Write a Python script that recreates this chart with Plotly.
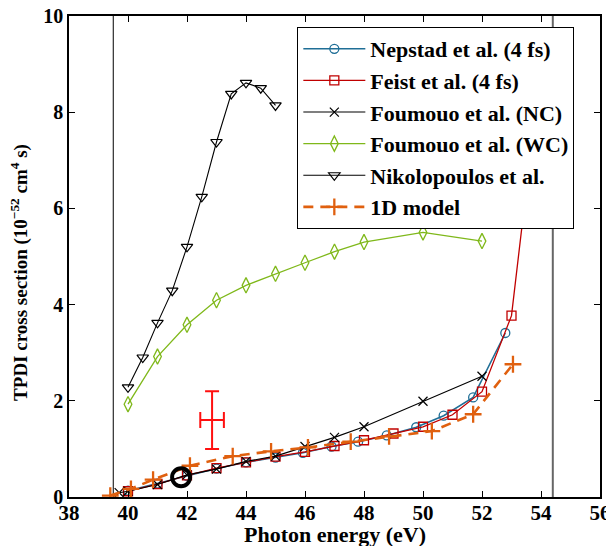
import plotly.graph_objects as go

# ---- data ----
nep_x = [40, 41, 42, 43, 44, 45, 45.93, 46.9, 47.8, 48.77, 49.77, 50.7, 51.7, 52.79]
nep_y = [0.13, 0.28, 0.44, 0.59, 0.72, 0.82, 0.92, 1.05, 1.15, 1.28, 1.45, 1.69, 2.07, 3.41]

feist_x = [40, 41, 42, 43, 44, 45, 46, 47, 48, 49, 50, 51, 52, 53, 54]
feist_y = [0.12, 0.27, 0.45, 0.60, 0.72, 0.84, 0.94, 1.06, 1.18, 1.32, 1.46, 1.71, 2.19, 3.77, 9.0]

fnc_x = [39.7, 40, 41, 42, 43, 44, 45, 46, 47, 48, 50, 52]
fnc_y = [0.09, 0.12, 0.26, 0.46, 0.58, 0.74, 0.85, 1.05, 1.24, 1.46, 1.99, 2.51]

fwc_x = [40, 41, 42, 43, 44, 45, 46, 47, 48, 50, 52]
fwc_y = [1.93, 2.92, 3.58, 4.09, 4.40, 4.64, 4.87, 5.10, 5.30, 5.50, 5.32]

nik_x = [40, 40.5, 41, 41.5, 42, 42.5, 43, 43.5, 44, 44.5, 45]
nik_y = [2.28, 2.90, 3.62, 4.29, 5.20, 6.24, 7.38, 8.38, 8.61, 8.50, 8.14]

m1d_x = [39.4, 40.1, 40.85, 42.1, 43.55, 44.85, 46.1, 47.55, 48.85, 50.3, 51.7, 53.05]
m1d_y = [0.03, 0.17, 0.36, 0.65, 0.85, 0.95, 1.03, 1.15, 1.26, 1.37, 1.72, 2.76]

exp_x = [42.85]
exp_y = [1.6]
exp_dx = [0.4]
exp_dy = [0.6]

circ_x = [41.8]
circ_y = [0.41]

thresholds = [39.5, 54.4]

x_ticks = [38, 40, 42, 44, 46, 48, 50, 52, 54, 56]
y_ticks = [0, 2, 4, 6, 8, 10]

x_title = "Photon energy (eV)"
y_title = "TPDI cross section (10<sup>−52</sup> cm<sup>4</sup> s)"

FONT = "Liberation Serif"

fig = go.Figure()

# threshold lines
fig.add_shape(type="line", xref="x", yref="paper", x0=thresholds[0], x1=thresholds[0],
              y0=0, y1=1, line=dict(color="black", width=1), layer="below")
fig.add_shape(type="line", xref="x", yref="paper", x0=thresholds[1], x1=thresholds[1],
              y0=0, y1=1, line=dict(color="#666666", width=2), layer="below")

fig.add_trace(go.Scatter(
    x=nep_x, y=nep_y, mode="lines+markers", name="Nepstad et al. (4 fs)",
    line=dict(color="#1f6e96", width=1.5),
    marker=dict(symbol="circle-open", size=9, color="#1f6e96", line=dict(width=1.3)),
    legendgroup="a"))
fig.add_trace(go.Scatter(
    x=feist_x, y=feist_y, mode="lines+markers", name="Feist et al. (4 fs)",
    line=dict(color="#c00000", width=1.3),
    marker=dict(symbol="square-open", size=9, color="#c00000", line=dict(width=1.3)),
    legendgroup="b"))
fig.add_trace(go.Scatter(
    x=fnc_x, y=fnc_y, mode="lines+markers", name="Foumouo et al. (NC)",
    line=dict(color="black", width=1.1),
    marker=dict(symbol="x-thin", size=9, color="black", line=dict(width=1.2, color="black")),
    legendgroup="c"))
fig.add_trace(go.Scatter(
    x=fwc_x, y=fwc_y, mode="lines+markers", name="Foumouo et al. (WC)",
    line=dict(color="#7fb81a", width=1.3),
    marker=dict(symbol="diamond-tall-open", size=11, color="#7fb81a", line=dict(width=1.3)),
    legendgroup="d"))
fig.add_trace(go.Scatter(
    x=nik_x, y=nik_y, mode="lines+markers", name="Nikolopoulos et al.",
    line=dict(color="black", width=1.1),
    marker=dict(symbol="triangle-down-open", size=10, color="black", line=dict(width=1.2)),
    legendgroup="e"))
fig.add_trace(go.Scatter(
    x=m1d_x, y=m1d_y, mode="lines+markers", name="1D model",
    line=dict(color="#e0600f", width=2.6, dash="10px,7px"),
    marker=dict(symbol="cross-thin", size=12, color="#e0600f", line=dict(width=2.3, color="#e0600f")),
    legendgroup="f"))

# experimental point with error bars
fig.add_trace(go.Scatter(
    x=exp_x, y=exp_y, mode="markers", showlegend=False,
    marker=dict(size=1, color="#ff1010"),
    error_x=dict(type="data", array=exp_dx, color="#ff1010", thickness=2, width=8),
    error_y=dict(type="data", array=exp_dy, color="#ff1010", thickness=2, width=7)))

# thick black circle
fig.add_trace(go.Scatter(
    x=circ_x, y=circ_y, mode="markers", showlegend=False,
    marker=dict(symbol="circle-open", size=18, color="black", line=dict(width=4, color="black"))))

axis_common = dict(
    showline=True, linecolor="black", linewidth=1.5, mirror="ticks",
    ticks="inside", ticklen=6, tickwidth=1.2, tickcolor="black",
    showgrid=False, zeroline=False, automargin=False,
    ticklabeloverflow="allow",
)

fig.update_xaxes(range=[38, 56], tickvals=x_ticks, ticktext=[str(v) for v in x_ticks],
                 ticklabelstandoff=-4,
                 tickfont=dict(family=FONT, size=21, color="black", weight="bold"),
                 **axis_common)
fig.update_yaxes(range=[0, 10], tickvals=y_ticks, ticktext=[str(v) for v in y_ticks],
                 tickfont=dict(family=FONT, size=20, color="black", weight="bold"),
                 **axis_common)

fig.add_annotation(text=x_title, xref="paper", yref="paper", x=0.5, y=-0.077,
                   xanchor="center", yanchor="middle", showarrow=False,
                   font=dict(family=FONT, size=22, color="black", weight="bold"))
fig.add_annotation(text=y_title, xref="paper", yref="paper", x=-0.0923, y=0.468,
                   xanchor="center", yanchor="middle", showarrow=False, textangle=-90,
                   font=dict(family=FONT, size=19, color="black", weight="bold"))

fig.update_layout(
    width=606, height=538,
    margin=dict(l=61, r=14, t=8, b=49, autoexpand=False),
    paper_bgcolor="white", plot_bgcolor="white",
    showlegend=True,
    legend=dict(x=0.430, y=0.977, xanchor="left", yanchor="top",
                bgcolor="white", bordercolor="black", borderwidth=1,
                font=dict(family=FONT, size=22, color="black", weight="bold"),
                traceorder="grouped", tracegroupgap=0, itemwidth=62),
)

fig.write_html("out.html")
